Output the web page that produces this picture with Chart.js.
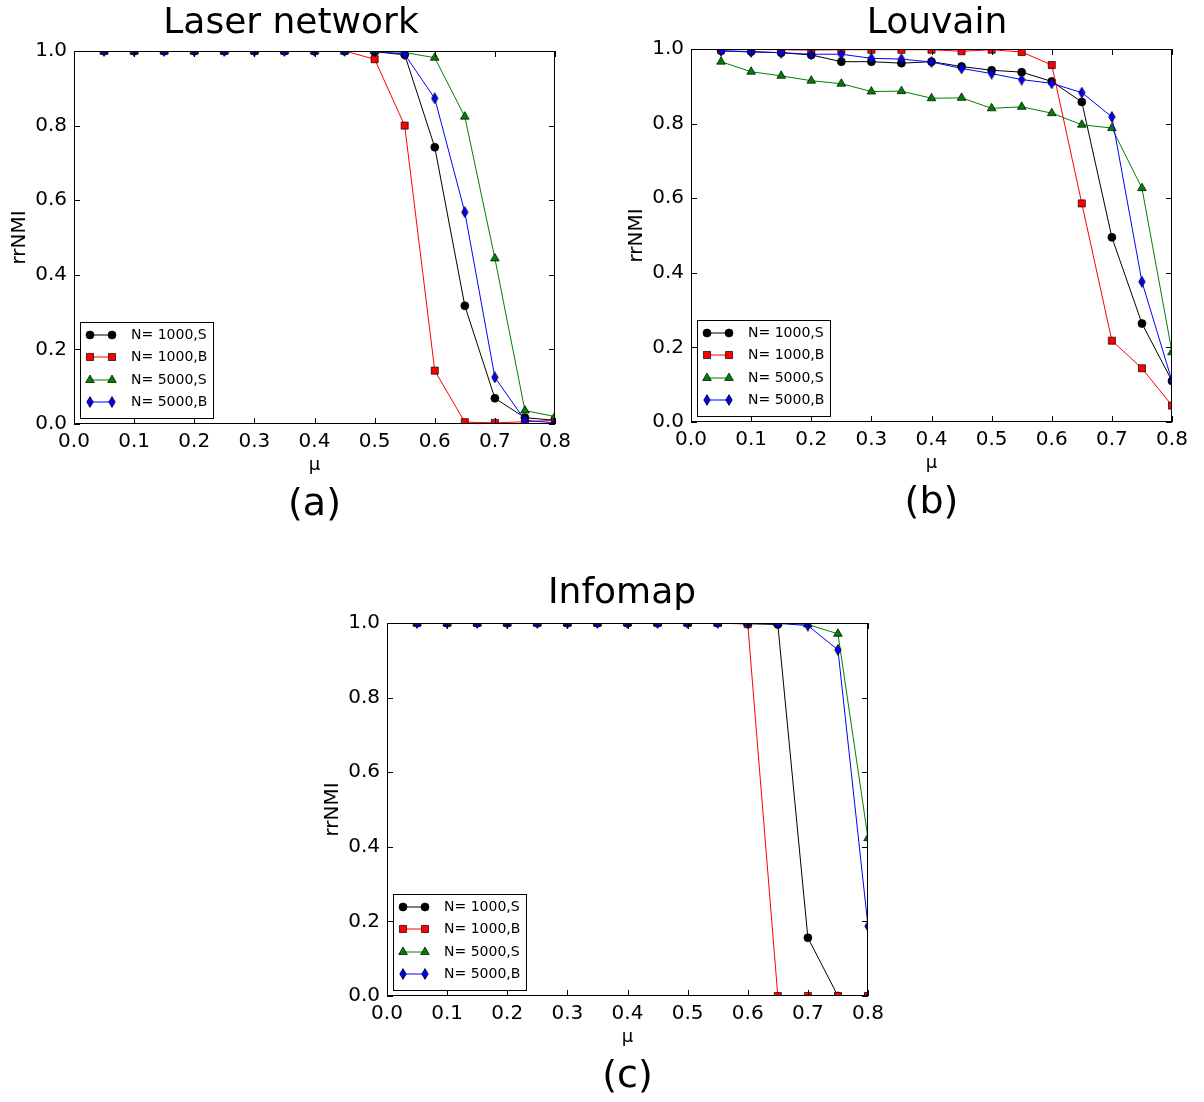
<!DOCTYPE html>
<html>
<head>
<meta charset="utf-8">
<script src="https://cdn.jsdelivr.net/npm/chart.js@4.4.0/dist/chart.umd.min.js"></script>
<style>
  html, body { margin: 0; padding: 0; background: #fff; overflow: hidden; }
  #page { position: relative; width: 1204px; height: 1102px; }
  .panel { position: absolute; width: 602px; height: 530px; }
</style>
</head>
<body>
<div id="page">
  <div class="panel" style="left:0px;top:0px"><canvas id="laser" width="602" height="530"></canvas></div>
  <div class="panel" style="left:617px;top:-2px"><canvas id="louvain" width="602" height="530"></canvas></div>
  <div class="panel" style="left:313px;top:572px"><canvas id="infomap" width="602" height="530"></canvas></div>
</div>
<script>
// mixing parameter values
const mu = [0.05, 0.10, 0.15, 0.20, 0.25, 0.30, 0.35, 0.40, 0.45, 0.50, 0.55, 0.60, 0.65, 0.70, 0.75, 0.80];
const xTicks = [0.0, 0.1, 0.2, 0.3, 0.4, 0.5, 0.6, 0.7, 0.8];
const yTicks = [0.0, 0.2, 0.4, 0.6, 0.8, 1.0];
const seriesNames = ['N= 1000,S', 'N= 1000,B', 'N= 5000,S', 'N= 5000,B'];

// Laser network
const laserS1000 = [1, 1, 1, 1, 1, 1, 1, 1, 1, 0.998, 0.99, 0.742, 0.317, 0.069, 0.017, 0.01];
const laserB1000 = [1, 1, 1, 1, 1, 1, 1, 1, 1, 0.978, 0.80, 0.143, 0.005, 0.003, 0.006, 0.01];
const laserS5000 = [1, 1, 1, 1, 1, 1, 1, 1, 1, 1.0, 0.996, 0.982, 0.824, 0.444, 0.036, 0.02];
const laserB5000 = [1, 1, 1, 1, 1, 1, 1, 1, 1, 1.0, 0.991, 0.873, 0.568, 0.125, 0.01, 0.003];

// Louvain
const louvainS1000 = [0.995, 0.993, 0.99, 0.984, 0.966, 0.966, 0.962, 0.966, 0.953, 0.943, 0.938, 0.913, 0.858, 0.495, 0.264, 0.11];
const louvainB1000 = [0.999, 0.999, 0.998, 0.997, 0.998, 0.998, 0.998, 0.998, 0.994, 0.998, 0.992, 0.957, 0.586, 0.218, 0.144, 0.044];
const louvainS5000 = [0.966, 0.939, 0.928, 0.915, 0.907, 0.886, 0.887, 0.868, 0.869, 0.841, 0.845, 0.828, 0.797, 0.788, 0.627, 0.187];
const louvainB5000 = [0.995, 0.992, 0.99, 0.986, 0.986, 0.975, 0.973, 0.965, 0.948, 0.934, 0.918, 0.908, 0.883, 0.818, 0.376, 0.11];

// Infomap
const infomapS1000 = [1, 1, 1, 1, 1, 1, 1, 1, 1, 1, 1, 0.998, 0.996, 0.156, 0, 0];
const infomapB1000 = [1, 1, 1, 1, 1, 1, 1, 1, 1, 1, 1, 0.997, 0, 0, 0, 0];
const infomapS5000 = [1, 1, 1, 1, 1, 1, 1, 1, 1, 1, 1, 1, 1, 0.996, 0.971, 0.423];
const infomapB5000 = [1, 1, 1, 1, 1, 1, 1, 1, 1, 1, 1, 1, 0.999, 0.993, 0.928, 0.187];

const FONT = '"DejaVu Sans", sans-serif';
const lineColors = ['#000000', '#ff0000', '#008000', '#0000ff'];

// matplotlib style thin diamond, used for the blue series
function thinDiamond(fill) {
  const c = document.createElement('canvas');
  c.width = 8; c.height = 12;
  const g = c.getContext('2d');
  g.beginPath();
  g.moveTo(4, 0.6); g.lineTo(7.2, 6); g.lineTo(4, 11.4); g.lineTo(0.8, 6); g.closePath();
  g.fillStyle = fill; g.fill();
  g.lineWidth = 0.8; g.strokeStyle = '#000'; g.stroke();
  return c;
}

const markerStyles = ['circle', 'rect', 'triangle', thinDiamond('#0000ff')];
const markerRadius = [4, 5, 5, 5];

function buildDatasets(series) {
  return series.map((vals, i) => ({
    label: seriesNames[i],
    data: mu.map((m, j) => ({ x: m, y: vals[j] })),
    borderColor: lineColors[i],
    backgroundColor: lineColors[i],
    borderWidth: 1,
    pointStyle: markerStyles[i],
    pointRadius: markerRadius[i],
    pointBackgroundColor: lineColors[i],
    pointBorderColor: '#000',
    pointBorderWidth: 0.7,
    tension: 0,
    clip: 0,
    order: 4 - i
  }));
}

// frame, inward ticks, legend box and panel texts
const panelDecor = {
  id: 'panelDecor',
  afterDatasetsDraw(chart, args, opts) {
    const ctx = chart.ctx;
    const ca = chart.chartArea;
    const xs = chart.scales.x, ys = chart.scales.y;
    ctx.save();
    ctx.strokeStyle = '#000';
    ctx.lineWidth = 1;
    ctx.strokeRect(ca.left + 0.5, ca.top + 0.5, ca.right - ca.left - 1, ca.bottom - ca.top - 1);
    const tl = 6;
    ctx.beginPath();
    xTicks.forEach(v => {
      const px = Math.round(xs.getPixelForValue(v)) + 0.5;
      ctx.moveTo(px, ca.bottom); ctx.lineTo(px, ca.bottom - tl);
      ctx.moveTo(px, ca.top); ctx.lineTo(px, ca.top + tl);
    });
    yTicks.forEach(v => {
      const py = Math.round(ys.getPixelForValue(v)) + 0.5;
      ctx.moveTo(ca.left, py); ctx.lineTo(ca.left + tl, py);
      ctx.moveTo(ca.right, py); ctx.lineTo(ca.right - tl, py);
    });
    ctx.stroke();

    // legend in the lower left corner
    const bx = ca.left + 6, by = ca.bottom - 102, bw = 133, bh = 96;
    ctx.fillStyle = '#fff';
    ctx.fillRect(bx, by, bw, bh);
    ctx.strokeRect(bx + 0.5, by + 0.5, bw, bh);
    const rowY = [ca.bottom - 89, ca.bottom - 67, ca.bottom - 44, ca.bottom - 22];
    chart.data.datasets.forEach((ds, i) => {
      const y = rowY[i];
      const x0 = ca.left + 16, x1 = ca.left + 38;
      ctx.strokeStyle = ds.borderColor;
      ctx.lineWidth = 1;
      ctx.beginPath(); ctx.moveTo(x0, y); ctx.lineTo(x1, y); ctx.stroke();
      ctx.fillStyle = ds.pointBackgroundColor;
      ctx.strokeStyle = '#000';
      ctx.lineWidth = 0.7;
      [x0, x1].forEach(x => Chart.helpers.drawPoint(ctx, {
        pointStyle: ds.pointStyle, radius: ds.pointRadius, rotation: 0, borderWidth: 0.7
      }, x, y));
      ctx.fillStyle = '#000';
      ctx.font = '14px ' + FONT;
      ctx.textAlign = 'left';
      ctx.textBaseline = 'middle';
      ctx.fillText(ds.label, ca.left + 57, y);
    });

    ctx.fillStyle = '#000';
    ctx.textAlign = 'center';
    ctx.textBaseline = 'alphabetic';
    ctx.font = '36px ' + FONT;
    ctx.fillText(opts.title, opts.titleX, opts.titleY);
    ctx.font = '38px ' + FONT;
    ctx.fillText(opts.tag, (ca.left + ca.right) / 2, ca.bottom + 91);
    ctx.font = '18px ' + FONT;
    ctx.fillText('\u03bc', (ca.left + ca.right) / 2, ca.bottom + 46);
    ctx.save();
    ctx.translate(20, (ca.top + ca.bottom) / 2);
    ctx.rotate(-Math.PI / 2);
    ctx.textBaseline = 'middle';
    ctx.font = '20px ' + FONT;
    ctx.fillText('rrNMI', 0, 0);
    ctx.restore();
    ctx.restore();
  }
};

function makePanel(id, series, decor) {
  new Chart(document.getElementById(id), {
    type: 'line',
    data: { datasets: buildDatasets(series) },
    plugins: [panelDecor],
    options: {
      responsive: false,
      animation: false,
      devicePixelRatio: 1,
      layout: { padding: { top: 51, right: 47, left: 0, bottom: 0 } },
      plugins: {
        legend: { display: false },
        title: { display: false },
        tooltip: { enabled: false },
        panelDecor: decor
      },
      scales: {
        x: {
          type: 'linear', min: 0, max: 0.8,
          afterBuildTicks: s => { s.ticks = xTicks.map(v => ({ value: v })); },
          afterFit: s => { s.height = 106; },
          grid: { display: false, drawTicks: false },
          border: { display: false },
          ticks: {
            callback: v => v.toFixed(1), color: '#000', padding: 6,
            maxRotation: 0, autoSkip: false, font: { family: FONT, size: 20 }
          }
        },
        y: {
          type: 'linear', min: 0, max: 1,
          afterBuildTicks: s => { s.ticks = yTicks.map(v => ({ value: v })); },
          afterFit: s => { s.width = 74; },
          grid: { display: false, drawTicks: false },
          border: { display: false },
          ticks: {
            callback: v => v.toFixed(1), color: '#000', padding: 7,
            autoSkip: false, font: { family: FONT, size: 20 }
          }
        }
      }
    }
  });
}

makePanel('laser', [laserS1000, laserB1000, laserS5000, laserB5000],
  { title: 'Laser network', tag: '(a)', titleX: 291, titleY: 33 });
makePanel('louvain', [louvainS1000, louvainB1000, louvainS5000, louvainB5000],
  { title: 'Louvain', tag: '(b)', titleX: 320, titleY: 35 });
makePanel('infomap', [infomapS1000, infomapB1000, infomapS5000, infomapB5000],
  { title: 'Infomap', tag: '(c)', titleX: 309, titleY: 31 });
</script>
</body>
</html>
